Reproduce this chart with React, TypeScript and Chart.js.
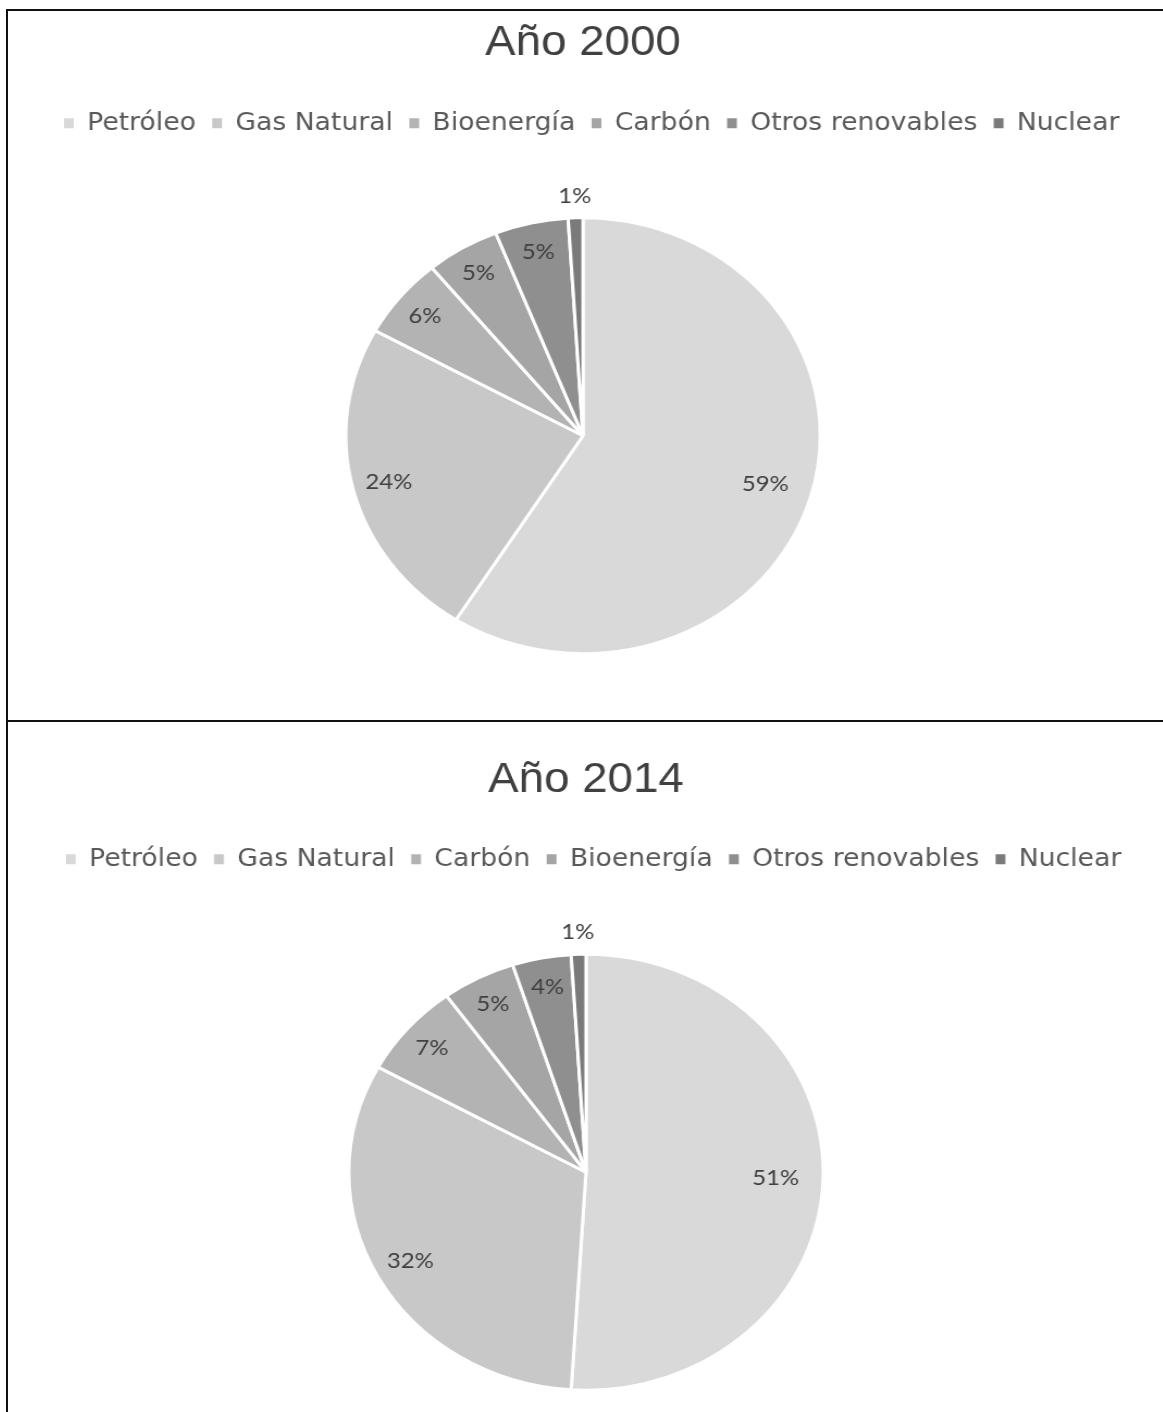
import React, { useEffect, useRef } from 'react';
import { Chart, registerables } from 'chart.js';

Chart.register(...registerables);

// ---- Data ----
const categories2000 = ['Petróleo', 'Gas Natural', 'Bioenergía', 'Carbón', 'Otros renovables', 'Nuclear'];
const values2000 = [59, 24, 6, 5, 5, 1];
const title2000 = 'Año 2000';

const categories2014 = ['Petróleo', 'Gas Natural', 'Carbón', 'Bioenergía', 'Otros renovables', 'Nuclear'];
const values2014 = [51, 32, 7, 5, 4, 1];
const title2014 = 'Año 2014';

const sliceColors = ['#d9d9d9', '#c8c8c8', '#b3b3b3', '#a5a5a5', '#8f8f8f', '#7a7a7a'];

const STRETCH = 1.088;

const labelPlugin = {
  id: 'pieLabels',
  afterDatasetsDraw(chart: any) {
    const ctx = chart.ctx;
    const meta = chart.getDatasetMeta(0);
    const data: number[] = chart.data.datasets[0].data;
    const total = data.reduce((a, b) => a + b, 0);
    ctx.save();
    ctx.font = '22px Lato';
    ctx.fillStyle = '#404040';
    ctx.textAlign = 'center';
    ctx.textBaseline = 'middle';
    meta.data.forEach((arc: any, i: number) => {
      const { x, y, startAngle, endAngle, outerRadius } = arc.getProps(
        ['x', 'y', 'startAngle', 'endAngle', 'outerRadius'],
        true
      );
      const pct = (data[i] / total) * 100;
      const mid = (startAngle + endAngle) / 2;
      let r: number;
      if (pct < 2) r = outerRadius + 22;
      else if (pct >= 40) r = outerRadius * 0.8;
      else if (pct >= 20) r = outerRadius * 0.845;
      else r = outerRadius * 0.865;
      ctx.fillText(Math.round(pct) + '%', x + Math.cos(mid) * r, y + Math.sin(mid) * r);
    });
    ctx.restore();
  },
};

const legendShiftPlugin = {
  id: 'legendShift',
  afterLayout(chart: any, _args: any, opts: any) {
    const d = (opts && opts.dx) || 0;
    if (chart.legend) {
      chart.legend.left += d;
      chart.legend.right += d;
    }
  },
};

type PieProps = {
  labels: string[];
  values: number[];
  title: string;
  top: number;
  height: number;
  cx: number;
  titlePadTop: number;
  titlePadBottom: number;
  padBottom: number;
  legendDx: number;
};

const CANVAS_W = 1060;

function PieChart(props: PieProps) {
  const ref = useRef<HTMLCanvasElement | null>(null);
  useEffect(() => {
    if (!ref.current) return;
    const chart = new Chart(ref.current, {
      type: 'pie',
      data: {
        labels: props.labels,
        datasets: [
          {
            data: props.values,
            backgroundColor: sliceColors,
            borderColor: '#ffffff',
            borderWidth: 3,
            radius: 218,
          } as any,
        ],
      },
      options: {
        responsive: false,
        animation: false,
        devicePixelRatio: 1,
        layout: { padding: { top: 0, bottom: props.padBottom, left: 0, right: 0 } },
        plugins: {
          legendShift: { dx: props.legendDx },
          title: {
            display: true,
            text: props.title,
            color: '#404040',
            font: { family: '"Liberation Sans", Arial, sans-serif', size: 42, weight: 'normal' as any },
            padding: { top: props.titlePadTop, bottom: props.titlePadBottom },
          },
          legend: {
            position: 'top',
            labels: {
              boxWidth: 9,
              boxHeight: 10,
              padding: 15,
              color: '#595959',
              font: { family: '"DejaVu Sans", Verdana, sans-serif', size: 24.5 },
              generateLabels: (c: any) =>
                (Chart as any).overrides.pie.plugins.legend.labels
                  .generateLabels(c)
                  .map((l: any) => ({ ...l, lineWidth: 0 })),
            },
          },
          tooltip: { enabled: false },
        },
      } as any,
      plugins: [labelPlugin, legendShiftPlugin],
    });
    return () => chart.destroy();
  }, []);
  return (
    <div
      style={{
        position: 'absolute',
        left: props.cx - CANVAS_W / 2,
        top: props.top,
        width: CANVAS_W,
        height: props.height,
        transform: `scaleX(${STRETCH})`,
        transformOrigin: `${CANVAS_W / 2}px 0px`,
      }}
    >
      <canvas ref={ref} width={CANVAS_W} height={props.height} />
    </div>
  );
}

export default function App() {
  const line = '#111111';
  return (
    <div
      style={{
        position: 'absolute',
        left: 0,
        top: 0,
        width: 1163,
        height: 1412,
        overflow: 'hidden',
        background: '#ffffff',
      }}
    >
      <PieChart
        labels={categories2000}
        values={values2000}
        title={title2000}
        top={11}
        height={725}
        cx={583}
        titlePadTop={7}
        titlePadBottom={27.5}
        padBottom={10}
        legendDx={8}
      />
      <PieChart
        labels={categories2014}
        values={values2014}
        title={title2014}
        top={723}
        height={751}
        cx={586}
        titlePadTop={32}
        titlePadBottom={26.5}
        padBottom={11}
        legendDx={7}
      />
      <div style={{ position: 'absolute', left: 6, top: 9, width: 2, height: 1403, background: line }} />
      <div style={{ position: 'absolute', left: 6, top: 9, width: 1157, height: 2, background: line }} />
      <div style={{ position: 'absolute', left: 6, top: 720, width: 1157, height: 2, background: line }} />
    </div>
  );
}
